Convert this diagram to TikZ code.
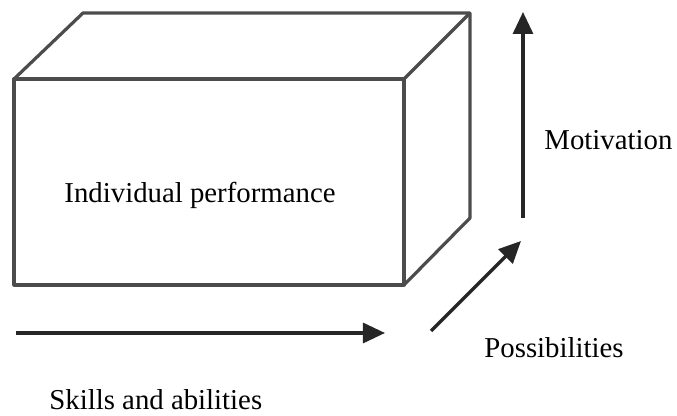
\documentclass[tikz,border=0pt]{standalone}
\usepackage{fontspec}
\setmainfont{Liberation Serif}
\usetikzlibrary{arrows.meta}

\begin{document}
\begin{tikzpicture}[x=0.5pt, y=-0.5pt, edge/.style = {draw=black!70, line width=1.6pt, line join=round},
        arr/.style = {draw=black!85, line width=1.6pt, -{Triangle[length=11pt,width=10pt]}},
        lbl/.style = {font=\fontsize{14.4}{17}\selectfont, inner sep=0pt}]
        \useasboundingbox (0,0) rectangle (677,416);

        % box corners
        \coordinate (fa) at (14,79);
        \coordinate (fb) at (404,79);
        \coordinate (fc) at (404,285);
        \coordinate (fd) at (14,285);
        \coordinate (ba) at (83,13);
        \coordinate (bb) at (470,13);
        \coordinate (bc) at (470,218);

        \draw[edge] (fa) -- (fb) -- (fc) -- (fd) -- cycle;
        \draw[edge] (fa) -- (ba) -- (bb) -- (bc) -- (fc);
        \draw[edge] (fb) -- (bb);

        \node[lbl] (perf) at (200,195) {Individual performance};

        % axes
        \coordinate (s1) at (16,333);
        \coordinate (s2) at (385,333);
        \coordinate (p1) at (431,331);
        \coordinate (p2) at (521,241);
        \coordinate (m1) at (523,218);
        \coordinate (m2) at (523,12);

        \draw[arr] (s1) -- (s2);
        \draw[arr] (p1) -- (p2);
        \draw[arr] (m1) -- (m2);

        \node[lbl, anchor=west] (motiv) at (544,140) {Motivation};
        \node[lbl, anchor=west] (poss) at (484,348) {Possibilities};
        \node[lbl, anchor=west] (skill) at (49,400) {Skills and abilities};
    \end{tikzpicture}
\end{document}
